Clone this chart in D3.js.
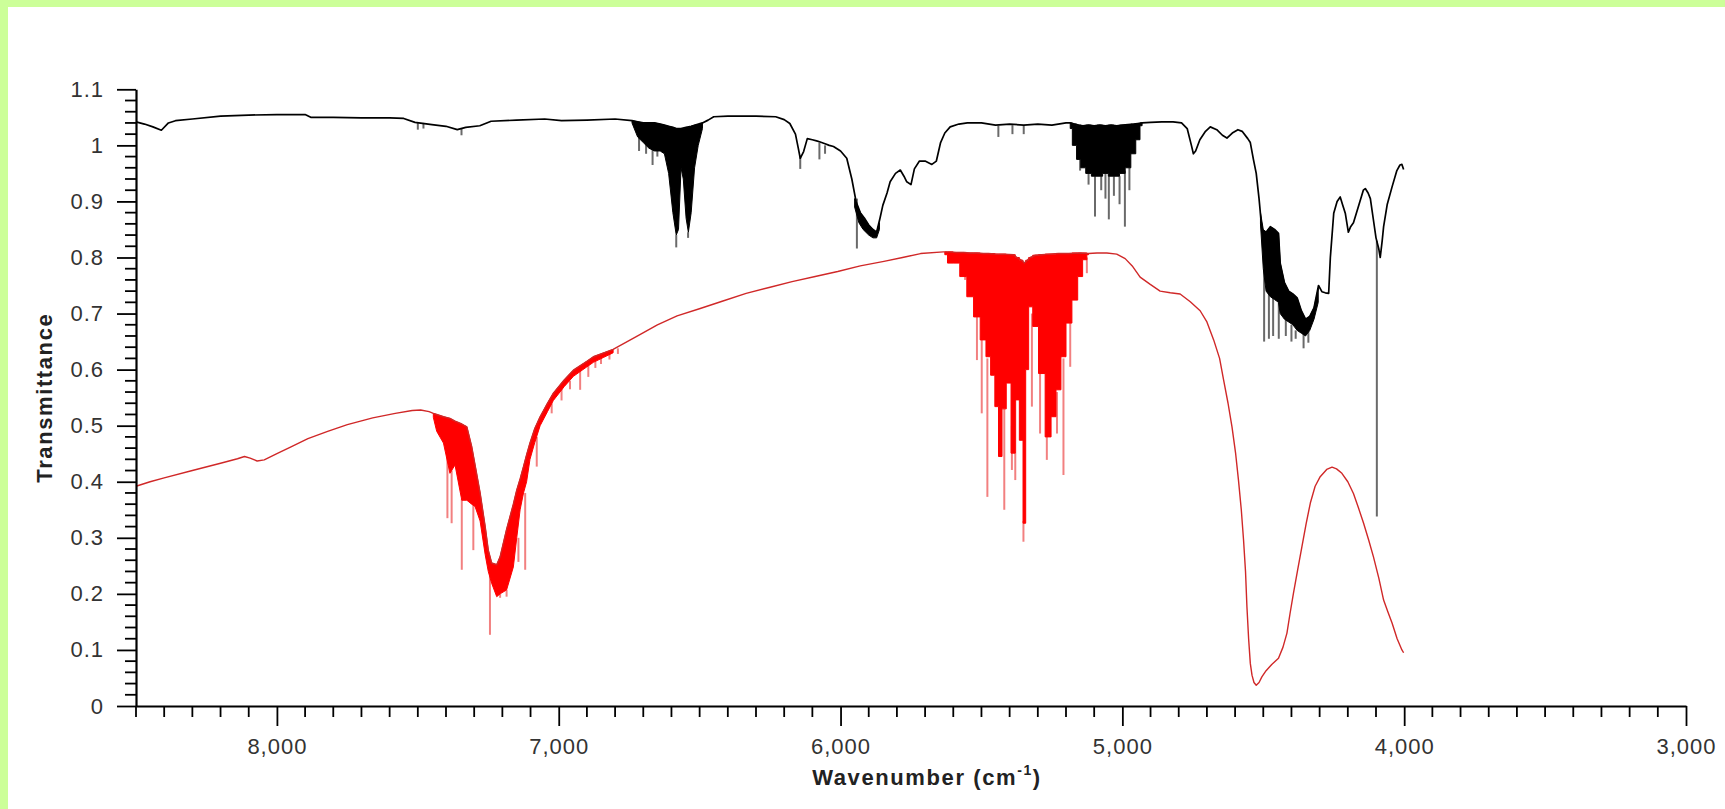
<!DOCTYPE html>
<html>
<head>
<meta charset="utf-8">
<script src="https://cdn.jsdelivr.net/npm/d3@7"></script>
<style>
  html, body { margin: 0; padding: 0; background: #fff; }
  svg { display: block; }
  .tick text { font-family: "Liberation Sans", Arial, sans-serif; font-size: 22px; letter-spacing: 1px; fill: #333; }
  .title { font-family: "Liberation Sans", Arial, sans-serif; font-weight: bold; font-size: 22px; letter-spacing: 1.6px; fill: #222; }
</style>
</head>
<body>
<div id="my_chart"></div>
<script>
// tick labels
var xTicks = [8000, 7000, 6000, 5000, 4000, 3000];
var yTicks = [0, 0.1, 0.2, 0.3, 0.4, 0.5, 0.6, 0.7, 0.8, 0.9, 1, 1.1];

// black spectrum: [wavenumber, transmittance]
var blackLine = [
  [8500,1.042],[8470,1.038],[8440,1.033],[8410,1.027],[8385,1.040],[8360,1.044],[8300,1.047],[8200,1.052],
  [8100,1.054],[8000,1.055],[7900,1.055],[7880,1.050],[7800,1.050],[7700,1.049],[7600,1.049],[7550,1.048],
  [7510,1.041],[7450,1.037],[7400,1.034],[7360,1.028],[7330,1.032],[7280,1.035],[7240,1.043],[7150,1.045],
  [7050,1.047],[6990,1.044],[6900,1.045],[6800,1.047],[6740,1.044],[6720,1.042],[6700,1.040],[6680,1.040],
  [6660,1.040],[6640,1.038],[6625,1.036],[6610,1.034],[6595,1.032],[6583,1.030],[6566,1.030],[6548,1.032],
  [6530,1.034],[6510,1.037],[6490,1.040],[6470,1.045],[6450,1.051],[6400,1.052],[6300,1.052],[6230,1.051],
  [6200,1.046],[6180,1.039],[6160,1.020],[6150,0.995],[6143,0.977],[6131,0.989],[6118,1.012],[6100,1.010],
  [6085,1.008],[6072,1.006],[6055,1.003],[6040,1.000],[6025,0.998],[6000,0.990],[5978,0.977],[5960,0.940],
  [5945,0.900],[5930,0.880],[5915,0.870],[5900,0.858],[5885,0.850],[5872,0.845],[5860,0.870],[5850,0.893],
  [5835,0.915],[5824,0.935],[5805,0.950],[5788,0.956],[5775,0.945],[5765,0.935],[5750,0.930],[5738,0.958],
  [5720,0.972],[5700,0.972],[5676,0.966],[5660,0.972],[5645,1.005],[5630,1.022],[5611,1.033],[5580,1.038],
  [5550,1.040],[5500,1.040],[5450,1.036],[5400,1.038],[5350,1.036],[5300,1.038],[5250,1.036],[5200,1.040],
  [5185,1.040],[5170,1.038],[5155,1.036],[5140,1.035],[5120,1.036],[5100,1.035],[5080,1.036],[5060,1.035],
  [5040,1.036],[5020,1.035],[5000,1.036],[4980,1.037],[4960,1.038],[4945,1.039],[4930,1.040],[4900,1.041],
  [4860,1.042],[4820,1.042],[4790,1.040],[4770,1.030],[4755,1.000],[4748,0.985],[4740,0.990],[4725,1.010],
  [4705,1.025],[4688,1.033],[4665,1.028],[4645,1.018],[4629,1.013],[4610,1.022],[4590,1.028],[4575,1.025],
  [4555,1.012],[4546,1.005],[4535,0.975],[4525,0.950],[4515,0.905],[4505,0.850],[4490,0.845],[4475,0.855],
  [4460,0.850],[4446,0.843],[4440,0.790],[4425,0.755],[4410,0.740],[4395,0.735],[4380,0.728],[4365,0.705],
  [4350,0.690],[4335,0.695],[4320,0.710],[4304,0.750],[4292,0.739],[4280,0.737],[4268,0.736],[4262,0.800],
  [4250,0.879],[4238,0.900],[4227,0.908],[4218,0.893],[4209,0.879],[4198,0.845],[4190,0.855],[4180,0.862],
  [4160,0.895],[4145,0.920],[4138,0.923],[4128,0.915],[4120,0.905],[4110,0.870],[4100,0.835],[4090,0.815],
  [4085,0.800],[4078,0.830],[4073,0.855],[4060,0.895],[4043,0.926],[4026,0.955],[4015,0.965],[4008,0.966],
  [4002,0.957]
];

// dense absorption regions: [wavenumber, upper, lower]
var blackBandA = [
  [6740,1.044,1.040],[6720,1.042,1.015],[6700,1.040,1.005],[6680,1.040,0.995],[6660,1.040,0.990],
  [6640,1.038,0.990],[6625,1.036,0.985],[6610,1.034,0.950],[6595,1.032,0.880],[6583,1.030,0.840],
  [6575,1.030,0.850],[6566,1.030,0.960],[6558,1.030,0.940],[6548,1.032,0.870],[6540,1.032,0.845],
  [6530,1.034,0.880],[6518,1.036,0.960],[6505,1.037,1.000],[6490,1.040,1.030]
];
var blackBandB = [
  [5950,0.905,0.890],[5935,0.885,0.862],[5920,0.872,0.850],[5900,0.858,0.840],[5885,0.850,0.835],
  [5872,0.845,0.835],[5862,0.862,0.850]
];
var blackBandC = [
  [5185,1.040,1.030],[5170,1.038,1.000],[5155,1.036,0.975],[5140,1.035,0.960],[5120,1.036,0.950],
  [5100,1.035,0.945],[5080,1.036,0.945],[5060,1.035,0.950],[5040,1.036,0.945],[5020,1.035,0.945],
  [5000,1.036,0.950],[4980,1.037,0.960],[4960,1.038,0.985],[4945,1.039,1.010],[4930,1.040,1.035]
];
var blackBandD = [
  [4510,0.880,0.860],[4500,0.850,0.780],[4490,0.845,0.740],[4475,0.855,0.730],[4460,0.850,0.725],
  [4446,0.843,0.720],[4440,0.790,0.700],[4425,0.755,0.690],[4410,0.740,0.685],[4395,0.735,0.680],
  [4380,0.728,0.670],[4365,0.705,0.665],[4350,0.690,0.660],[4335,0.695,0.670],[4320,0.710,0.690],
  [4305,0.745,0.720]
];
// single lines: [wavenumber, from, to]
var blackSpikes = [
  [7500,1.040,1.028],[7480,1.040,1.030],[7345,1.030,1.018],[6715,1.020,0.990],[6690,1.010,0.985],
  [6667,1.005,0.965],[6650,1.000,0.980],[6583,0.840,0.818],[6541,0.845,0.835],[6143,0.980,0.958],
  [6075,1.005,0.975],[6055,1.000,0.985],[5942,0.905,0.816],[5440,1.035,1.015],[5390,1.036,1.020],
  [5350,1.036,1.020],[5150,0.975,0.955],[5120,0.950,0.930],[5097,0.945,0.873],[5075,0.945,0.920],
  [5060,0.950,0.905],[5048,0.945,0.868],[5030,0.945,0.910],[5010,0.945,0.895],[4991,0.955,0.855],
  [4975,0.960,0.920],[4497,0.780,0.650],[4480,0.740,0.655],[4465,0.730,0.660],[4445,0.720,0.655],
  [4420,0.690,0.660],[4400,0.680,0.650],[4385,0.670,0.655],[4357,0.665,0.638],[4340,0.670,0.648],
  [4097,0.830,0.338]
];

// red spectrum: [wavenumber, transmittance]
var redLine = [
  [8500,0.392],[8450,0.400],[8400,0.407],[8300,0.420],[8200,0.433],[8140,0.441],[8115,0.445],[8095,0.442],
  [8070,0.437],[8045,0.439],[8000,0.450],[7950,0.462],[7890,0.477],[7820,0.490],[7750,0.502],[7660,0.514],
  [7580,0.522],[7520,0.527],[7490,0.528],[7460,0.525],[7445,0.522],[7433,0.520],[7409,0.516],[7386,0.513],
  [7368,0.508],[7344,0.503],[7326,0.498],[7309,0.463],[7297,0.430],[7279,0.380],[7261,0.320],[7250,0.278],
  [7238,0.255],[7220,0.252],[7208,0.266],[7185,0.315],[7161,0.360],[7149,0.385],[7137,0.405],[7125,0.427],
  [7114,0.448],[7102,0.469],[7085,0.495],[7066,0.516],[7040,0.540],[7019,0.558],[6980,0.582],[6948,0.599],
  [6900,0.615],[6877,0.623],[6840,0.630],[6807,0.636],[6720,0.660],[6650,0.680],[6580,0.696],[6498,0.709],
  [6420,0.722],[6335,0.736],[6250,0.747],[6172,0.757],[6090,0.766],[6010,0.775],[5930,0.785],[5846,0.793],
  [5780,0.800],[5716,0.807],[5635,0.810],[5611,0.810],[5590,0.809],[5564,0.809],[5540,0.808],[5516,0.808],
  [5493,0.807],[5475,0.807],[5445,0.806],[5420,0.806],[5386,0.805],[5374,0.800],[5357,0.795],[5348,0.790],
  [5338,0.795],[5327,0.800],[5309,0.804],[5286,0.805],[5262,0.806],[5227,0.807],[5191,0.807],[5150,0.808],
  [5120,0.807],[5090,0.808],[5055,0.808],[5020,0.806],[4990,0.798],[4965,0.785],[4937,0.765],[4901,0.752],
  [4866,0.740],[4830,0.737],[4795,0.735],[4759,0.721],[4724,0.705],[4700,0.685],[4676,0.653],[4655,0.620],
  [4641,0.582],[4625,0.540],[4611,0.498],[4598,0.450],[4588,0.403],[4578,0.350],[4570,0.296],[4563,0.240],
  [4558,0.177],[4552,0.120],[4546,0.076],[4540,0.055],[4533,0.042],[4525,0.037],[4515,0.042],[4505,0.052],
  [4490,0.063],[4470,0.074],[4446,0.085],[4430,0.105],[4416,0.130],[4405,0.165],[4393,0.201],[4378,0.243],
  [4363,0.284],[4348,0.325],[4333,0.362],[4316,0.392],[4298,0.409],[4275,0.422],[4256,0.426],[4240,0.423],
  [4221,0.415],[4200,0.400],[4180,0.379],[4162,0.353],[4144,0.326],[4126,0.296],[4109,0.266],[4090,0.228],
  [4073,0.189],[4058,0.168],[4043,0.148],[4025,0.120],[4008,0.100],[4002,0.095]
];
var redBandA = [
  [7445,0.522,0.515],[7433,0.520,0.490],[7409,0.516,0.469],[7386,0.513,0.415],[7368,0.508,0.430],
  [7344,0.503,0.367],[7326,0.498,0.367],[7309,0.463,0.360],[7297,0.430,0.356],[7279,0.380,0.330],
  [7261,0.320,0.270],[7250,0.278,0.240],[7238,0.255,0.219],[7220,0.252,0.195],[7208,0.266,0.200],
  [7185,0.315,0.207],[7161,0.360,0.248],[7149,0.385,0.300],[7137,0.405,0.350],[7125,0.427,0.380],
  [7114,0.448,0.400],[7102,0.469,0.440],[7085,0.495,0.470],[7066,0.516,0.500],[7040,0.540,0.525],
  [7019,0.558,0.545],[6980,0.582,0.570],[6948,0.599,0.588],[6900,0.615,0.605],[6877,0.623,0.613],
  [6840,0.630,0.622],[6807,0.636,0.630]
];
var redBandB = [
  [5630,0.810,0.805],[5611,0.810,0.790],[5590,0.809,0.790],[5564,0.809,0.766],[5540,0.808,0.730],
  [5516,0.808,0.694],[5493,0.807,0.653],[5475,0.807,0.623],[5460,0.807,0.590],[5445,0.806,0.534],
  [5434,0.806,0.445],[5420,0.806,0.530],[5404,0.805,0.576],[5386,0.805,0.451],[5374,0.800,0.546],
  [5357,0.795,0.474],[5348,0.790,0.326],[5338,0.795,0.600],[5327,0.800,0.712],[5309,0.804,0.677],
  [5286,0.805,0.593],[5262,0.806,0.480],[5244,0.806,0.516],[5227,0.807,0.564],[5209,0.807,0.623],
  [5191,0.807,0.683],[5167,0.808,0.724],[5150,0.808,0.766],[5132,0.808,0.796],[5120,0.807,0.805]
];
var redSpikes = [
  [7395,0.450,0.335],[7380,0.420,0.326],[7344,0.370,0.243],[7303,0.360,0.278],[7244,0.240,0.127],
  [7208,0.200,0.193],[7185,0.207,0.195],[7143,0.300,0.257],[7119,0.380,0.243],[7078,0.480,0.427],
  [7025,0.540,0.522],[6990,0.570,0.545],[6960,0.580,0.565],[6924,0.600,0.564],[6895,0.610,0.587],
  [6870,0.615,0.603],[6850,0.622,0.610],[6820,0.630,0.618],[6790,0.638,0.628],
  [5558,0.770,0.760],[5516,0.694,0.617],[5499,0.660,0.522],[5479,0.620,0.373],[5419,0.530,0.350],
  [5392,0.500,0.421],[5380,0.550,0.403],[5351,0.330,0.293],[5321,0.700,0.534],[5292,0.600,0.486],
  [5268,0.490,0.439],[5232,0.560,0.486],[5209,0.620,0.412],[5185,0.690,0.605],[5126,0.800,0.772]
];

var width = 1725, height = 809;
var margin = { top: 89.3, right: 39, bottom: 103, left: 136 };

var svg = d3.select("#my_chart")
  .append("svg")
  .attr("width", width)
  .attr("height", height);

// green frame
svg.append("rect").attr("width", width).attr("height", height).attr("fill", "#ccff99");
svg.append("rect").attr("x", 8).attr("y", 7).attr("width", width - 8).attr("height", height - 7).attr("fill", "#fff");

var x = d3.scaleLinear().domain([8500, 3000]).range([margin.left, width - margin.right]);
var y = d3.scaleLinear().domain([0, 1.1]).range([height - margin.bottom, margin.top]);

var line = d3.line().x(function (d) { return x(d[0]); }).y(function (d) { return y(d[1]); });
function bandPath(b, curve) {
  return d3.area()
    .curve(curve)
    .x(function (d) { return x(d[0]); })
    .y0(function (d) { return y(d[2]); })
    .y1(function (d) { return y(d[1]); })(b);
}

function drawSeries(spikes, bands, pts, spikeColor, fillColor, lineColor, lineWidth) {
  var g = svg.append("g");
  g.selectAll("line.spike")
    .data(spikes)
    .enter()
    .append("line")
    .attr("class", "spike")
    .attr("x1", function (d) { return x(d[0]); })
    .attr("x2", function (d) { return x(d[0]); })
    .attr("y1", function (d) { return y(d[1]); })
    .attr("y2", function (d) { return y(d[2]); })
    .attr("stroke", spikeColor)
    .attr("stroke-width", 2);
  bands.forEach(function (b) {
    g.append("path").attr("d", bandPath(b[0], b[1])).attr("fill", fillColor)
      .attr("stroke", fillColor).attr("stroke-width", 1);
  });
  g.append("path")
    .attr("d", line(pts))
    .attr("fill", "none")
    .attr("stroke", lineColor)
    .attr("stroke-width", lineWidth)
    .attr("stroke-linejoin", "round");
}

drawSeries(redSpikes, [[redBandA, d3.curveLinear], [redBandB, d3.curveStep]], redLine,
  "#f28080", "#ff0000", "#d02828", 1.4);
drawSeries(blackSpikes, [[blackBandA, d3.curveLinear], [blackBandB, d3.curveLinear],
  [blackBandC, d3.curveStep], [blackBandD, d3.curveLinear]], blackLine,
  "#6a6a6a", "#000", "#000", 1.7);

// X axis
var xAxis = svg.append("g")
  .attr("transform", "translate(0," + y(0) + ")")
  .call(d3.axisBottom(x).tickValues(xTicks).tickSize(20).tickPadding(12)
    .tickSizeOuter(0).tickFormat(d3.format(",")));
svg.append("g")
  .selectAll("line")
  .data(d3.range(8500, 2999, -100).filter(function (v) { return v % 1000 !== 0; }))
  .enter()
  .append("line")
  .attr("x1", function (d) { return x(d); })
  .attr("x2", function (d) { return x(d); })
  .attr("y1", y(0))
  .attr("y2", y(0) + 11)
  .attr("stroke", "#000")
  .attr("stroke-width", 1.8);

// Y axis
var yAxis = svg.append("g")
  .attr("transform", "translate(" + x(8500) + ",0)")
  .call(d3.axisLeft(y).tickValues(yTicks).tickSize(19).tickPadding(13)
    .tickSizeOuter(0).tickFormat(d3.format(".1~f")));
svg.append("g")
  .selectAll("line")
  .data(d3.range(0, 56).filter(function (i) { return i % 5 !== 0; }))
  .enter()
  .append("line")
  .attr("x1", x(8500) - 11)
  .attr("x2", x(8500))
  .attr("y1", function (d) { return y(d * 0.02); })
  .attr("y2", function (d) { return y(d * 0.02); })
  .attr("stroke", "#000")
  .attr("stroke-width", 1.8);

[xAxis, yAxis].forEach(function (a) {
  a.select(".domain").attr("stroke", "#000").attr("stroke-width", 2.2);
  a.selectAll(".tick line").attr("stroke", "#000").attr("stroke-width", 1.8);
});

// axis titles
var xt = svg.append("text")
  .attr("class", "title")
  .attr("x", 927)
  .attr("y", 785)
  .attr("text-anchor", "middle");
xt.append("tspan").text("Wavenumber (cm");
xt.append("tspan").attr("dy", -10).attr("font-size", "14px").text("-1");
xt.append("tspan").attr("dy", 10).text(")");

svg.append("text")
  .attr("class", "title")
  .attr("transform", "translate(44," + ((y(0) + y(1.1)) / 2) + ") rotate(-90)")
  .attr("text-anchor", "middle")
  .attr("dy", "0.35em")
  .text("Transmittance");
</script>
</body>
</html>
